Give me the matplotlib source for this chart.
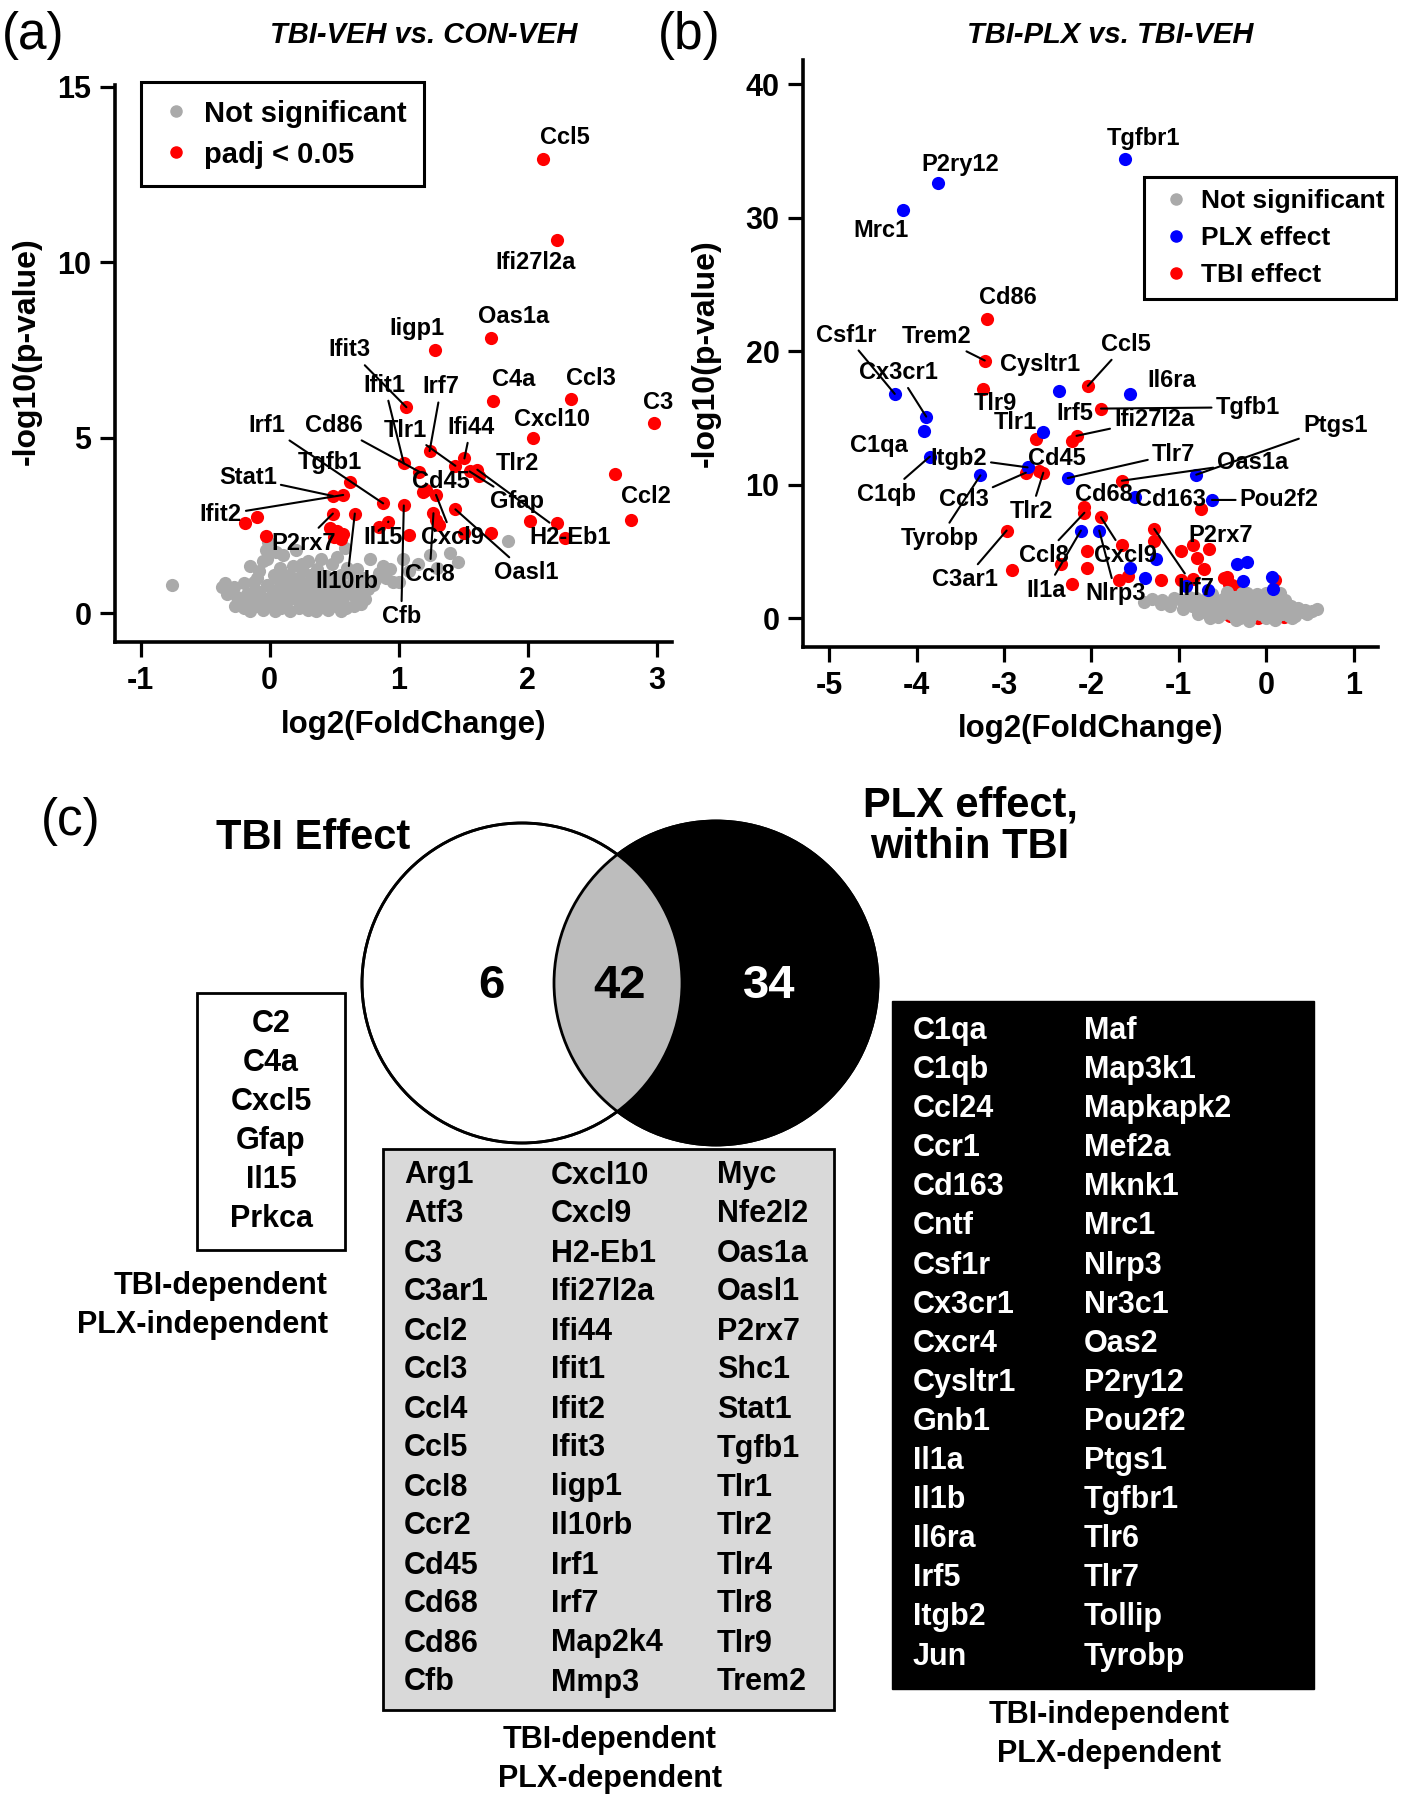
import matplotlib
matplotlib.use("Agg")
import matplotlib.pyplot as plt
from matplotlib.lines import Line2D
from matplotlib.patches import Circle, Rectangle

plt.rcParams['font.family'] = ['Liberation Sans', 'DejaVu Sans']
plt.rcParams['font.weight'] = 'bold'
plt.rcParams['axes.unicode_minus'] = False

W, H = 1406, 1800
RED, BLUE, GREY = '#FF0000', '#0000FF', '#AAAAAA'

# ---------------- panel (a): TBI-VEH vs CON-VEH ----------------
a_sig_gene = ['Ccl5', 'Ifi27l2a', 'Oas1a', 'Iigp1', 'Ifit3', 'C4a', 'Ccl3', 'C3', 'Cxcl10', '',
              'Ccl2', 'Irf7', 'Ifit1', 'Cd86', 'Ifi44', 'Tlr1', 'Gfap', 'H2-Eb1', '', 'Cxcl9',
              'Irf1', 'Cfb', 'Oasl1', 'Ccl8', '', '', '', '', '', '',
              '', '', 'Il15', '', 'Il10rb', 'Tgfb1', 'Ifit2', 'Stat1', 'P2rx7', '',
              '', '', '', '', '', '', '', 'Tlr2', 'Cd45']
a_sig_lfc = [2.12, 2.23, 1.72, 1.28, 1.06, 1.73, 2.34, 2.98, 2.04, 2.68,
             2.80, 1.24, 1.04, 1.16, 1.51, 1.44, 1.55, 1.61, 1.19, 1.29,
             0.88, 1.04, 1.44, 1.27, 1.29, 1.31, 2.02, 2.23, 2.29, 1.72,
             1.51, 1.08, 0.92, 0.85, 0.66, 0.62, 0.57, 0.49, 0.49, 0.47,
             0.52, 0.57, 0.50, 0.55, -0.10, -0.19, -0.03, 1.62, 1.21]
a_sig_p = [12.95, 10.62, 7.83, 7.50, 5.87, 6.06, 6.10, 5.43, 4.98, 3.98,
           2.67, 4.62, 4.27, 4.03, 4.41, 4.20, 4.04, 4.09, 3.46, 3.37,
           3.13, 3.07, 2.96, 2.85, 2.67, 2.52, 2.63, 2.57, 2.13, 2.29,
           2.29, 2.23, 2.61, 2.45, 2.84, 3.73, 3.37, 3.34, 2.84, 2.43,
           2.33, 2.27, 2.17, 2.12, 2.73, 2.57, 2.19, 3.92, 3.52]

a_ns_lfc = [-0.25, -0.22, -0.20, -0.18, -0.15, -0.12, -0.10, -0.08, -0.05, -0.03,
            0.00, 0.02, 0.04, 0.06, 0.09, 0.11, 0.13, 0.16, 0.18, 0.20,
            0.23, 0.25, 0.28, 0.30, 0.33, 0.35, 0.38, 0.40, 0.43, 0.46,
            0.48, 0.51, 0.54, 0.57, 0.60, 0.63, 0.66, 0.70, 0.74,
            -0.76, -0.37, -0.30, -0.12, -0.08, -0.05, -0.03, -0.01, 0.05, 0.08,
            0.12, 0.15, 0.18, 0.22, 0.26, 0.30, 0.33, 0.37, 0.40, 0.44,
            0.48, 0.52, 0.55, 0.60, 0.65, 0.68, 0.72, 0.78, 0.80, 0.85,
            0.88, 0.93, 0.96, 1.00, 1.03, 1.08, 1.15, 1.24, 1.30, 1.40,
            1.46, 1.85, 0.10, 0.20, 0.58, -0.15,
            -0.33, -0.28, -0.27, -0.20, -0.17, -0.13, -0.10, -0.06, -0.02, 0.01,
            0.03, 0.07, 0.10, 0.12, 0.15, 0.17, 0.21, 0.24, 0.27, 0.29,
            0.32, 0.34, 0.36, 0.39, 0.42, 0.45, 0.47, 0.50, 0.53, 0.56,
            0.59, 0.62, 0.64, 0.68, 0.71, 0.76, 0.82, 0.90, 0.36, 0.45,
            0.55, 0.65, -0.35, 0.05, -0.02, 0.25]
a_ns_p = [0.45, 0.30, 0.15, 0.55, 0.05, 0.35, 0.20, 0.60, 0.10, 0.40,
          0.25, 0.65, 0.05, 0.45, 0.15, 0.55, 0.30, 0.05, 0.70, 0.40,
          0.15, 0.55, 0.30, 0.08, 0.60, 0.35, 0.15, 0.55, 0.30, 0.70,
          0.20, 0.45, 0.65, 0.30, 0.55, 0.80, 0.45, 0.65, 0.40,
          0.80, 0.76, 0.66, 0.90, 1.20, 1.50, 1.80, 2.02, 1.00, 1.30,
          0.90, 1.10, 1.35, 1.00, 1.20, 1.50, 0.95, 1.25, 1.55, 1.05,
          1.40, 1.60, 1.10, 1.30, 1.05, 1.25, 1.00, 1.55, 0.80, 1.15,
          1.35, 1.25, 0.90, 0.90, 1.55, 1.20, 1.40, 1.65, 1.30, 1.73,
          1.45, 2.05, 1.65, 1.80, 1.85, 1.35,
          0.55, 0.75, 0.20, 0.85, 0.40, 0.60, 1.00, 0.30, 0.80, 0.45,
          1.10, 0.70, 0.30, 1.00, 0.50, 0.85, 0.60, 0.90, 0.70, 0.45,
          1.10, 0.80, 0.50, 0.95, 0.75, 0.50, 0.90, 0.70, 1.00, 0.80,
          0.15, 0.65, 1.10, 0.85, 0.25, 0.70, 0.95, 1.00, 0.05, 0.10,
          0.05, 0.20, 0.85, 1.75, 1.55, 1.40]

# label placement for panel (a): text centre (data units), draw leader line?
a_labels = {
    'Ccl5': (2.29, 13.55, False), 'Ifi27l2a': (2.06, 10.0, False), 'Iigp1': (1.14, 8.1, False),
    'Oas1a': (1.89, 8.45, False), 'Ifit3': (0.62, 7.5, True), 'Ifit1': (0.89, 6.5, True),
    'Irf7': (1.33, 6.45, True), 'C4a': (1.89, 6.65, False), 'Ccl3': (2.49, 6.7, False),
    'C3': (3.01, 6.0, False), 'Cxcl10': (2.19, 5.52, False), 'Ccl2': (2.92, 3.32, False),
    'Irf1': (-0.02, 5.35, True), 'Cd86': (0.50, 5.35, True), 'Tlr1': (1.05, 5.22, True),
    'Ifi44': (1.56, 5.3, True), 'Tlr2': (1.92, 4.28, False), 'Gfap': (1.92, 3.18, True),
    'H2-Eb1': (2.33, 2.15, True), 'Cd45': (1.33, 3.75, False), 'Cxcl9': (1.42, 2.15, True),
    'Oasl1': (1.99, 1.16, True), 'Stat1': (-0.17, 3.86, True), 'Tgfb1': (0.47, 4.3, False),
    'Ifit2': (-0.38, 2.8, True), 'P2rx7': (0.26, 2.0, True), 'Il10rb': (0.60, 0.9, True),
    'Il15': (0.88, 2.15, True), 'Ccl8': (1.24, 1.1, True), 'Cfb': (1.02, -0.1, True),
}

# ---------------- panel (b): TBI-PLX vs TBI-VEH ----------------
b_plx_gene = ['Tgfbr1', 'P2ry12', 'Mrc1', 'Csf1r', 'Cx3cr1', 'C1qa', 'C1qb', 'Cysltr1', 'Il6ra', '',
              'Itgb2', 'Tyrobp', 'Tlr7', 'Ptgs1', 'Cd163', 'Pou2f2', 'Il1a', 'Nlrp3', '', '',
              '', '', '', '', '', '', '', '']
b_plx_lfc = [-1.62, -3.75, -4.15, -4.25, -3.89, -3.92, -3.85, -2.37, -1.56, -2.55,
             -2.73, -3.27, -2.27, -0.80, -1.50, -0.62, -2.12, -1.91, -1.26, -1.56,
             -1.39, -0.67, -0.92, -0.33, -0.22, -0.26, 0.07, 0.08]
b_plx_p = [34.4, 32.6, 30.6, 16.8, 15.1, 14.0, 12.1, 17.0, 16.8, 13.96,
           11.3, 10.7, 10.5, 10.75, 9.05, 8.86, 6.57, 6.57, 4.44, 3.80,
           3.05, 2.13, 2.45, 4.10, 4.20, 2.80, 3.10, 2.20]

b_tbi_gene = ['Cd86', 'Trem2', 'Tlr9', 'Ccl5', 'Tgfb1', 'Ifi27l2a', 'Irf5', 'Tlr1', 'Ccl3', 'Tlr2',
              'Oas1a', '', 'Cd68', 'Ccl8', 'Cxcl9', 'C3ar1', 'Irf7', '', '', '',
              'P2rx7', '', '', '', '', '', '', '', '', '',
              '', '', '', '', '', '', '', '', '', '',
              '', '', '', '', '', '', '', 'Cd45']
b_tbi_lfc = [-3.20, -3.22, -3.24, -2.04, -1.89, -2.17, -2.22, -2.63, -2.75, -2.55,
             -1.65, -0.74, -2.08, -2.08, -1.89, -2.97, -1.28, -1.28, -1.65, -2.05,
             -0.98, -0.84, -0.65, -0.79, -0.71, -2.91, -2.35, -2.05, -2.22, -1.68,
             -1.58, -1.20, -0.98, -0.84, -0.48, -0.42, -0.32, 0.10, -0.45, -0.39,
             -0.41, -0.09, 0.01, 0.27, 0.12, -0.20, 0.20, -2.60]
b_tbi_p = [22.4, 19.3, 17.2, 17.4, 15.7, 13.66, 13.3, 13.45, 10.9, 10.9,
           10.3, 8.18, 8.30, 7.90, 7.56, 6.57, 6.69, 5.82, 5.45, 5.07,
           5.05, 5.47, 5.22, 4.52, 3.72, 3.63, 4.06, 3.80, 2.58, 2.83,
           3.13, 2.83, 2.88, 2.95, 3.00, 2.60, 2.24, 2.85, 3.10, 2.46,
           0.20, 0.00, 0.35, 0.45, 1.20, 0.30, 0.10, 11.0]

b_ns_lfc = [-1.40, -1.31, -1.19, -1.06, -0.98, -0.92, -0.85, -0.80, -0.75, -0.70,
            -0.66, -0.62, -0.58, -0.55, -0.52, -0.48, -0.45, -0.42, -0.40, -0.36,
            -0.33, -0.30, -0.28, -0.25, -0.22, -0.20, -0.17, -0.15, -0.12, -0.10,
            -0.07, -0.05, -0.03, 0.00, 0.02, 0.04, 0.07, 0.09, 0.11, 0.14,
            0.16, 0.18, 0.20, 0.23, 0.26, 0.29, 0.32, 0.36, 0.42, 0.47,
            0.52, 0.58, -0.60, -0.35, 0.10, -0.20, 0.30,
            -1.20, -1.10, -0.95, -0.88, -0.78, -0.72, -0.68, -0.64, -0.57, -0.50,
            -0.46, -0.43, -0.38, -0.34, -0.31, -0.27, -0.24, -0.21, -0.18, -0.14,
            -0.11, -0.08, -0.04, -0.01, 0.03, 0.06, 0.08, 0.12, 0.15, 0.19,
            0.22, 0.25, 0.28, 0.33, 0.38, 0.45, -0.55, -0.62, -0.28, 0.00]
b_ns_p = [1.25, 1.47, 1.34, 1.50, 1.40, 1.10, 0.90, 1.50, 0.60, 1.20,
          0.30, 1.80, 0.90, 0.10, 1.40, 0.60, 2.00, 1.00, 0.30, 1.60,
          0.75, 0.00, 1.25, 0.45, 1.90, 0.90, 0.15, 1.50, 0.60, 1.10,
          0.30, 1.70, 0.80, 0.05, 1.30, 0.50, 0.95, 0.20, 1.60, 0.65,
          1.86, 0.30, 1.10, 0.70, 0.15, 0.95, 0.40, 0.75, 0.45, 0.30,
          0.55, 0.67, 0.50, -0.10, -0.15, -0.20, 0.00,
          1.10, 0.90, 0.70, 1.60, 0.30, 0.90, 1.50, 0.00, 1.20, 0.30,
          1.70, 0.70, 1.30, 0.20, 1.00, 0.60, 1.40, 0.30, 1.00, 0.50,
          1.80, 0.90, 0.40, 1.50, 0.80, 0.10, 1.40, 0.40, 1.00, 0.60,
          1.40, 0.30, 0.60, 0.20, 0.55, 0.60, 0.60, 1.00, 1.90, 1.90]

b_labels = {
    'Tgfbr1': (-1.40, 35.9, False), 'P2ry12': (-3.50, 34.0, False), 'Mrc1': (-4.41, 29.0, False),
    'Cd86': (-2.95, 24.0, False), 'Csf1r': (-4.81, 21.2, True), 'Trem2': (-3.77, 21.1, True),
    'Cysltr1': (-2.59, 19.0, False), 'Ccl5': (-1.61, 20.5, True), 'Cx3cr1': (-4.21, 18.4, True),
    'Il6ra': (-1.08, 17.8, False), 'Tlr9': (-3.10, 16.1, False), 'Irf5': (-2.19, 15.3, False),
    'Tgfb1': (-0.21, 15.8, True), 'Ifi27l2a': (-1.28, 14.9, True), 'Tlr1': (-2.87, 14.65, False),
    'C1qa': (-4.43, 12.9, False), 'Itgb2': (-3.52, 12.0, True), 'Cd45': (-2.39, 12.0, False),
    'Tlr7': (-1.06, 12.3, True), 'Ptgs1': (0.79, 14.4, True), 'Oas1a': (-0.15, 11.7, True),
    'C1qb': (-4.34, 9.3, True), 'Ccl3': (-3.46, 8.86, True), 'Tlr2': (-2.69, 8.0, True),
    'Cd68': (-1.86, 9.3, False), 'Cd163': (-1.09, 8.86, False), 'Pou2f2': (0.15, 8.86, True),
    'Tyrobp': (-3.74, 6.0, True), 'P2rx7': (-0.52, 6.2, False), 'C3ar1': (-3.45, 2.9, True),
    'Ccl8': (-2.54, 4.7, True), 'Cxcl9': (-1.61, 4.7, True), 'Il1a': (-2.52, 2.1, True),
    'Nlrp3': (-1.72, 1.84, True), 'Irf7': (-0.81, 2.2, True),
}

# ---------------- panel (c): Venn counts and gene lists ----------------
venn_counts = [6, 42, 34]
tbi_only = ['C2', 'C4a', 'Cxcl5', 'Gfap', 'Il15', 'Prkca']
both = ['Arg1', 'Atf3', 'C3', 'C3ar1', 'Ccl2', 'Ccl3', 'Ccl4', 'Ccl5', 'Ccl8', 'Ccr2', 'Cd45',
        'Cd68', 'Cd86', 'Cfb', 'Cxcl10', 'Cxcl9', 'H2-Eb1', 'Ifi27l2a', 'Ifi44', 'Ifit1', 'Ifit2',
        'Ifit3', 'Iigp1', 'Il10rb', 'Irf1', 'Irf7', 'Map2k4', 'Mmp3', 'Myc', 'Nfe2l2', 'Oas1a',
        'Oasl1', 'P2rx7', 'Shc1', 'Stat1', 'Tgfb1', 'Tlr1', 'Tlr2', 'Tlr4', 'Tlr8', 'Tlr9', 'Trem2']
plx_only = ['C1qa', 'C1qb', 'Ccl24', 'Ccr1', 'Cd163', 'Cntf', 'Csf1r', 'Cx3cr1', 'Cxcr4',
            'Cysltr1', 'Gnb1', 'Il1a', 'Il1b', 'Il6ra', 'Irf5', 'Itgb2', 'Jun', 'Maf', 'Map3k1',
            'Mapkapk2', 'Mef2a', 'Mknk1', 'Mrc1', 'Nlrp3', 'Nr3c1', 'Oas2', 'P2ry12', 'Pou2f2',
            'Ptgs1', 'Tgfbr1', 'Tlr6', 'Tlr7', 'Tollip', 'Tyrobp']

fig = plt.figure(figsize=(W / 100, H / 100), dpi=100)


def px_axes(x0, y0, x1, y1):
    return fig.add_axes([x0 / W, 1 - y1 / H, (x1 - x0) / W, (y1 - y0) / H])


def style_axes(ax):
    for s in ['top', 'right']:
        ax.spines[s].set_visible(False)
    for s in ['left', 'bottom']:
        ax.spines[s].set_linewidth(2.6)
    ax.tick_params(length=11, width=2.3, labelsize=22, pad=6)
    ax.set_facecolor('none')


def put_labels(ax, genes, xs, ys, placement):
    for g, x, y in zip(genes, xs, ys):
        if g not in placement:
            continue
        lx, ly, line = placement[g]
        if line:
            ax.annotate(g, xy=(x, y), xytext=(lx, ly), fontsize=17, ha='center', va='center',
                        arrowprops=dict(arrowstyle='-', color='black', lw=1.5,
                                        shrinkA=1, shrinkB=0), zorder=5)
        else:
            ax.text(lx, ly, g, fontsize=17, ha='center', va='center', zorder=5)


# panel (a)
ax_a = px_axes(115, 85, 672, 642)
ax_a.scatter(a_ns_lfc, a_ns_p, s=90, color=GREY, lw=0, zorder=2)
ax_a.scatter(a_sig_lfc, a_sig_p, s=90, color=RED, lw=0, zorder=3)
put_labels(ax_a, a_sig_gene, a_sig_lfc, a_sig_p, a_labels)
ax_a.set_xlim(-1.20, 3.12)
ax_a.set_ylim(-0.82, 15.05)
ax_a.set_xticks([-1, 0, 1, 2, 3])
ax_a.set_yticks([0, 5, 10, 15])
style_axes(ax_a)
leg_a = ax_a.legend(handles=[
    Line2D([], [], marker='o', ls='', color=GREY, markersize=8, label='Not significant'),
    Line2D([], [], marker='o', ls='', color=RED, markersize=8, label='padj < 0.05')],
    loc='upper left', bbox_to_anchor=(141 / W, 1 - 82 / H), bbox_transform=fig.transFigure,
    fancybox=False, edgecolor='black', fontsize=21, borderpad=0.6, labelspacing=0.45,
    handlelength=1.2, handletextpad=0.35, borderaxespad=0, framealpha=1)
leg_a.get_frame().set_linewidth(2.2)

# panel (b)
ax_b = px_axes(803, 60, 1378, 647)
ax_b.scatter(b_tbi_lfc, b_tbi_p, s=90, color=RED, lw=0, zorder=2)
ax_b.scatter(b_ns_lfc, b_ns_p, s=90, color=GREY, lw=0, zorder=3)
ax_b.scatter(b_plx_lfc, b_plx_p, s=90, color=BLUE, lw=0, zorder=4)
put_labels(ax_b, b_plx_gene, b_plx_lfc, b_plx_p, b_labels)
put_labels(ax_b, b_tbi_gene, b_tbi_lfc, b_tbi_p, b_labels)
ax_b.set_xlim(-5.30, 1.28)
ax_b.set_ylim(-2.15, 41.8)
ax_b.set_xticks([-5, -4, -3, -2, -1, 0, 1])
ax_b.set_yticks([0, 10, 20, 30, 40])
style_axes(ax_b)
leg_b = ax_b.legend(handles=[
    Line2D([], [], marker='o', ls='', color=GREY, markersize=8, label='Not significant'),
    Line2D([], [], marker='o', ls='', color=BLUE, markersize=8, label='PLX effect'),
    Line2D([], [], marker='o', ls='', color=RED, markersize=8, label='TBI effect')],
    loc='upper left', bbox_to_anchor=(1144 / W, 1 - 177 / H), bbox_transform=fig.transFigure,
    fancybox=False, edgecolor='black', fontsize=19, borderpad=0.45, labelspacing=0.5,
    handlelength=1.5, handletextpad=0.2, borderaxespad=0, framealpha=1)
leg_b.get_frame().set_linewidth(2.2)

# overlay in pixel coordinates for titles, axis labels and panel (c)
ov = fig.add_axes([0, 0, 1, 1], zorder=-1)
ov.set_xlim(0, W)
ov.set_ylim(H, 0)
ov.axis('off')

ov.text(2, 36, '(a)', fontsize=37, fontweight='normal', ha='left', va='center')
ov.text(658, 36, '(b)', fontsize=37, fontweight='normal', ha='left', va='center')
ov.text(71, 821, '(c)', fontsize=37, fontweight='normal', ha='center', va='center')
ov.text(424, 35, 'TBI-VEH vs. CON-VEH', fontsize=21, style='italic', ha='center', va='center')
ov.text(1110, 35, 'TBI-PLX vs. TBI-VEH', fontsize=21, style='italic', ha='center', va='center')
ov.text(414, 725, 'log2(FoldChange)', fontsize=22.5, ha='center', va='center')
ov.text(1091, 729, 'log2(FoldChange)', fontsize=22.5, ha='center', va='center')
ov.text(27, 351, '-log10(p-value)', fontsize=23, rotation=90, ha='center', va='center')
ov.text(706, 353, '-log10(p-value)', fontsize=23, rotation=90, ha='center', va='center')

# Venn diagram
lc, rc = (522, 983), (716, 983)
right = Circle(rc, 162, facecolor='black', edgecolor='black', lw=2)
ov.add_patch(right)
ov.add_patch(Circle(lc, 160, facecolor='white', edgecolor='black', lw=2))
lens = Circle(lc, 160, facecolor='#BDBDBD', edgecolor='none')
ov.add_patch(lens)
lens.set_clip_path(right)
ov.add_patch(Circle(rc, 162, fill=False, edgecolor='black', lw=2))
ov.add_patch(Circle(lc, 160, fill=False, edgecolor='black', lw=2))
ov.text(491, 986, str(venn_counts[0]), fontsize=34, color='black', ha='center', va='center')
ov.text(620, 986, str(venn_counts[1]), fontsize=34, color='black', ha='center', va='center')
ov.text(769, 986, str(venn_counts[2]), fontsize=34, color='white', ha='center', va='center')
ov.text(313, 838, 'TBI Effect', fontsize=30, ha='center', va='center')
ov.text(970, 826, 'PLX effect,\nwithin TBI', fontsize=30, ha='center', va='center',
        linespacing=1.05)

# TBI-only box
ov.add_patch(Rectangle((197, 993), 148, 257, facecolor='white', edgecolor='black', lw=2))
for i, g in enumerate(tbi_only):
    ov.text(271, 1024 + 39 * i, g, fontsize=22, ha='center', va='center')
ov.text(328, 1286, 'TBI-dependent', fontsize=22, ha='right', va='center')
ov.text(328, 1325, 'PLX-independent', fontsize=22, ha='right', va='center')

# overlap box (3 columns x 14 rows)
ov.add_patch(Rectangle((383, 1149), 451, 561, facecolor='#D9D9D9', edgecolor='black', lw=2))
col_x = [404, 551, 717]
for i, g in enumerate(both):
    ov.text(col_x[i // 14], 1175.5 + 39 * (i % 14), g, fontsize=22, ha='left', va='center')
ov.text(610, 1740, 'TBI-dependent', fontsize=22, ha='center', va='center')
ov.text(610, 1779, 'PLX-dependent', fontsize=22, ha='center', va='center')

# PLX-only box (2 columns x 17 rows)
ov.add_patch(Rectangle((892, 1001), 422, 688, facecolor='black', edgecolor='black', lw=1))
col_x = [913, 1084]
for i, g in enumerate(plx_only):
    ov.text(col_x[i // 17], 1031 + 39.1 * (i % 17), g, fontsize=22, color='white',
            ha='left', va='center')
ov.text(1109, 1715, 'TBI-independent', fontsize=22, ha='center', va='center')
ov.text(1109, 1754, 'PLX-dependent', fontsize=22, ha='center', va='center')

fig.savefig('out.png', dpi=100)
